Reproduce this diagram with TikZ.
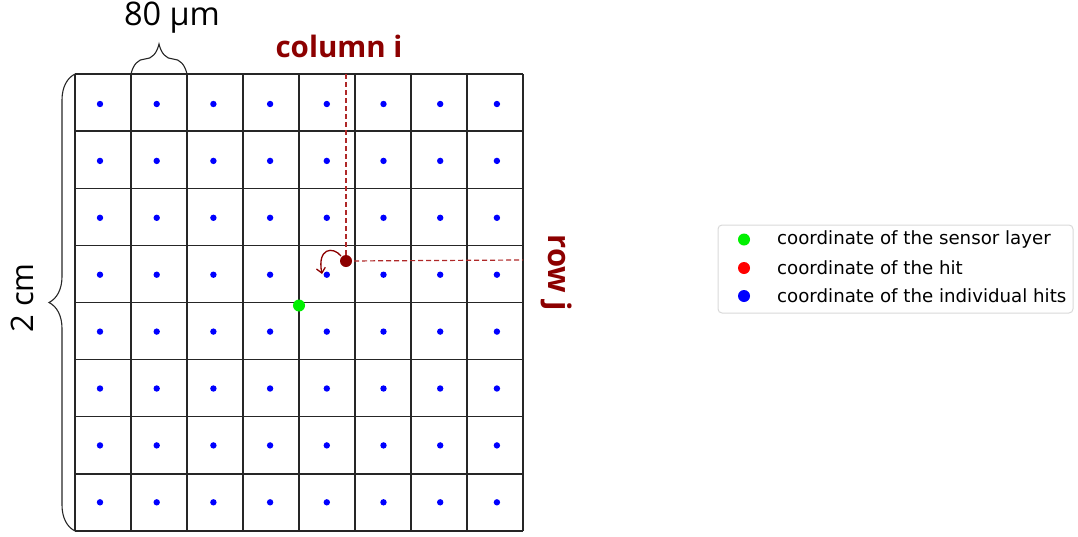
\documentclass[tikz,border=0pt]{standalone}
\usepackage{fontspec}
\setmainfont{DejaVu Sans}
\newfontfamily\labfont{Open Sans}
\usetikzlibrary{decorations.pathreplacing,arrows.meta}
\definecolor{dred}{RGB}{140,0,0}
\definecolor{dashred}{RGB}{175,40,40}
\definecolor{lgreen}{RGB}{0,240,0}
\tikzset{
  gridline/.style={line width=1.4pt, draw=black!85},
  bluedot/.style={fill=blue},
  bracestyle/.style={decorate, line width=1.1pt, draw=black!85},
  legtext/.style={anchor=west, inner sep=0pt, font=\fontsize{18.2}{21}\selectfont},
  guide/.style={dashed, dash pattern=on 5pt off 3pt, line width=1.2pt, draw=dashred}
}
\begin{document}
\begin{tikzpicture}[x=1pt,y=-1pt]
\useasboundingbox (0,0) rectangle (1078,536);
% grid
\foreach \i in {0,...,8} {
  \draw[gridline] (75+56*\i,74) -- (75+56*\i,531);
  \draw[gridline] (75,74+57.125*\i) -- (523,74+57.125*\i);
}
% blue dots
\foreach \i in {0,...,7} \foreach \j in {0,...,7}
  \fill[bluedot] (100+56.7*\i,104+56.9*\j) circle (3.2);
% guide lines
\coordinate (hit) at (346,261);
\coordinate (coltop) at (346,74);
\coordinate (rowend) at (523,260);
\draw[guide] (coltop) -- (hit);
\draw[guide] (hit) -- (rowend);
% curved arrow
\coordinate (arrend) at (322,274);
\draw[dred, line width=1.3pt, -{Straight Barb[length=5pt,width=9pt]}] (341,256) .. controls (333,246) and (317,248) .. (arrend);
% points
\fill[lgreen] (299,305.5) circle (6);
\fill[dred] (hit) circle (6);
% braces
\coordinate (tb1) at (131,74);
\coordinate (tb2) at (187,74);
\draw[bracestyle, decoration={brace, amplitude=30pt}] (tb1) -- (tb2);
\coordinate (lb1) at (75,531);
\coordinate (lb2) at (75,74);
\draw[bracestyle, decoration={brace, amplitude=26pt}] (lb1) -- (lb2);
% labels
\node[font=\labfont\fontsize{32.5}{36}\selectfont, inner sep=0pt] (um) at (172,18) {80 µm};
\node[font=\labfont\fontsize{31}{34}\selectfont, inner sep=0pt, rotate=90] (cm) at (22,298) {2 cm};
\node[font=\labfont\bfseries\fontsize{29.5}{33}\selectfont, text=dred, inner sep=0pt] (col) at (339,46) {column i};
\node[font=\labfont\bfseries\fontsize{31}{34}\selectfont, text=dred, inner sep=0pt, rotate=-90] (row) at (557,273) {row j};
% legend
\draw[rounded corners=4pt, draw=black!15, line width=1pt, fill=white] (718,225) rectangle (1073,313);
\fill[lgreen] (744,239.5) circle (6);
\fill[red] (744,268) circle (6);
\fill[blue] (744,296) circle (6);
\node[legtext] (l1) at (777,239.5) {coordinate of the sensor layer};
\node[legtext] (l2) at (777,268) {coordinate of the hit};
\node[legtext] (l3) at (777,296) {coordinate of the individual hits};
\end{tikzpicture}
\end{document}
